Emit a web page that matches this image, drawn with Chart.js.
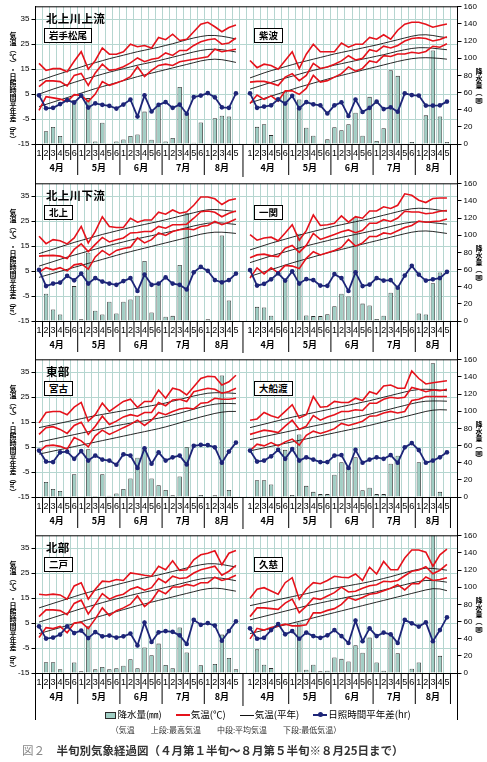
<!DOCTYPE html>
<html lang="ja">
<head>
<meta charset="utf-8">
<script src="https://cdn.jsdelivr.net/npm/chart.js@4.4.0/dist/chart.umd.min.js"></script>
<style>
  body { margin: 0; background: #fff; }
  #page { position: relative; width: 487px; height: 762px; overflow: hidden; font-family: "Noto Sans CJK JP", sans-serif; color: #000; }
  canvas { position: absolute; left: 0; }
  .region { position: absolute; left: 46px; font-size: 11.5px; font-weight: bold; letter-spacing: 0.3px; line-height: 14px; }
  .station { position: absolute; border: 1px solid #000; background: #fff; font-size: 9.5px; font-weight: bold; line-height: 13px; padding: 0 4px; }
  .vtitle { position: absolute; width: 10px; font-size: 7px; font-weight: bold; text-align: center; }
  .vtitle div { height: 6.9px; line-height: 6.9px; white-space: nowrap; }
  .vtitle .rot { transform: rotate(90deg); height: 8px; line-height: 8px; font-size: 6.5px; }
  #legend { position: absolute; top: 707px; left: 0; width: 516px; text-align: center; font-size: 9.5px; white-space: nowrap; line-height: 14px; }
  #legend .sw { display: inline-block; vertical-align: middle; margin-right: 1px; }
  #legend .item { margin: 0 7px; }
  #note { position: absolute; top: 724px; left: 0; width: 452px; text-align: center; font-size: 8px; color: #333; white-space: nowrap; }
  #caption { position: absolute; top: 742px; left: 22px; font-size: 11.5px; color: #333; white-space: nowrap; font-weight: bold; }
  #caption .fig { color: #888; font-weight: normal; }
</style>
</head>
<body>
<div id="page"></div>
<script>
// 横軸（半旬）
const months = ['4月', '5月', '6月', '7月', '8月'];
const halfCounts = [6, 6, 6, 6, 5];
const halfLabels = ['1','2','3','4','5','6','1','2','3','4','5','6','1','2','3','4','5','6','1','2','3','4','5','6','1','2','3','4','5'];

// 岩手松尾
const matsuoMax  = [17.3,14.5,15.2,15.2,14.0,18.2,22.0,15.0,18.5,23.5,21.0,21.0,22.0,25.0,24.0,24.5,23.5,27.7,26.8,29.0,26.5,27.0,30.0,33.0,33.8,32.0,30.0,31.7,32.7];
const matsuoMean = [8.0,10.3,10.3,10.0,8.3,12.5,13.3,8.5,13.5,17.0,14.5,15.0,16.0,17.5,19.5,18.0,19.0,19.5,21.5,20.5,22.5,22.5,24.5,26.0,26.8,27.2,25.0,25.5,27.5];
const matsuoMin  = [-1.5,4.0,3.5,3.0,2.0,4.8,4.5,2.0,5.0,10.0,8.5,9.5,10.5,12.0,16.0,12.0,14.5,16.5,17.0,16.5,18.0,18.5,19.0,19.5,20.0,23.0,22.0,22.5,23.0];
const matsuoMaxN  = [10.3,11.3,12.3,13.2,14.1,15.0,15.9,16.8,17.6,18.4,19.2,19.9,20.6,21.3,22.0,22.6,23.2,23.8,24.5,25.2,26.0,26.8,27.5,28.1,28.5,28.5,28.2,27.7,27.1];
const matsuoMeanN = [5.0,6.0,7.0,7.9,8.8,9.7,10.6,11.4,12.2,13.0,13.8,14.5,15.2,15.9,16.6,17.2,17.8,18.4,19.1,19.8,20.5,21.2,21.9,22.5,22.9,23.0,22.8,22.4,21.9];
const matsuoMinN  = [0.0,0.9,1.8,2.7,3.6,4.5,5.4,6.3,7.2,8.0,8.8,9.6,10.4,11.2,12.0,12.7,13.4,14.1,14.8,15.5,16.2,16.9,17.6,18.3,18.8,19.0,18.8,18.3,17.7];
const matsuoSun  = [4.5,-0.7,-0.5,1.0,2.6,1.6,4.4,-0.4,1.3,0.7,0.3,-0.8,0.8,2.8,-4.0,4.5,-2.0,0.7,1.8,-0.5,0.8,-2.9,3.8,4.4,5.4,3.7,-0.3,-0.5,5.3];
const matsuoRain = [0,14.8,19.8,9.3,1,51,0,53.5,3,24.7,1,3,5.2,9.3,11,37.8,5,45,3,7,66.6,36,1.5,25,0,30,33,32,0];

// 紫波
const shiwaMax  = [18.5,15.6,17.0,16.5,15.0,18.5,22.0,15.2,21.0,25.0,22.0,22.0,22.0,25.5,23.8,25.0,25.0,27.7,27.0,28.8,27.0,30.6,33.0,33.8,33.8,33.0,31.8,32.5,33.1];
const shiwaMean = [9.8,10.1,10.1,9.4,8.4,11.8,13.2,10.4,12.5,17.3,15.3,15.9,17.0,18.3,20.4,18.7,19.4,22.8,22.1,24.2,23.5,24.5,26.3,27.3,27.6,27.3,26.3,26.9,28.0];
const shiwaMin  = [1.2,4.6,2.9,4.3,2.2,6.3,6.3,4.9,7.3,12.5,9.8,10.4,11.8,13.2,15.9,14.2,15.3,18.3,17.7,20.4,20.1,21.1,21.1,21.8,21.4,22.1,24.2,23.8,25.2];
const shiwaMaxN  = [11.5,12.5,13.5,14.4,15.2,16.0,16.8,17.6,18.3,19.0,19.7,20.4,21.1,21.7,22.3,22.9,23.5,24.1,24.7,25.4,26.1,26.8,27.5,28.2,28.7,28.8,28.5,28.0,27.6];
const shiwaMeanN = [7.0,7.9,8.8,9.7,10.6,11.4,12.2,13.0,13.8,14.5,15.2,15.9,16.6,17.2,17.8,18.4,19.0,19.6,20.2,20.8,21.5,22.2,22.8,23.3,23.6,23.6,23.4,23.1,22.8];
const shiwaMinN  = [1.5,2.4,3.3,4.2,5.1,6.0,6.9,7.8,8.6,9.4,10.2,11.0,11.8,12.5,13.2,13.9,14.6,15.3,16.0,16.7,17.4,18.1,18.7,19.2,19.5,19.6,19.5,19.3,19.0];
const shiwaSun  = [5.3,-0.5,0.0,0.5,2.9,1.2,4.3,-0.7,1.8,0.9,0.5,-2.8,0.5,1.7,-3.8,2.8,-2.2,-0.5,2.0,-1.0,-0.3,-2.1,5.3,4.6,4.4,0.4,0.4,0.5,2.0];
const shiwaRain = [0,20,23,10.4,0,61,1,52,19,9.6,1,5.4,19.6,16,23,36.5,9.6,55,3.5,18.4,86,79.5,0,2.3,0,33.4,109,32,2.3];

// 北上
const kitakamiMax  = [19.0,16.0,17.6,17.2,15.9,18.3,22.9,16.3,20.9,26.8,22.9,22.5,22.5,26.2,24.6,25.5,25.5,28.6,27.8,29.5,28.2,28.8,31.4,34.7,34.7,34.0,31.7,33.4,34.0];
const kitakamiMean = [11.0,11.2,11.3,11.0,10.0,13.7,15.9,12.8,15.7,18.5,16.7,17.6,18.3,20.3,20.5,20.9,20.9,22.9,22.2,23.6,23.6,23.8,26.2,28.8,29.1,28.6,26.8,28.2,29.1];
const kitakamiMin  = [4.5,6.4,5.5,6.4,5.1,7.5,8.0,5.8,10.7,13.3,11.4,13.3,14.1,14.6,18.3,16.3,17.6,20.3,19.3,20.9,21.6,22.0,21.6,22.9,23.3,24.9,23.6,24.6,25.9];
const kitakamiMaxN  = [12.0,12.9,13.8,14.7,15.6,16.5,17.3,18.1,18.9,19.7,20.4,21.1,21.8,22.5,23.1,23.7,24.3,24.9,25.6,26.3,27.0,27.7,28.4,29.1,29.6,29.7,29.5,29.2,28.8];
const kitakamiMeanN = [7.0,7.9,8.8,9.7,10.6,11.4,12.2,13.0,13.8,14.6,15.3,16.0,16.7,17.4,18.0,18.6,19.2,19.8,20.4,21.0,21.7,22.4,23.1,23.7,24.2,24.4,24.3,24.0,23.7];
const kitakamiMinN  = [2.5,3.3,4.1,4.9,5.7,6.5,7.3,8.1,8.9,9.7,10.5,11.3,12.1,12.8,13.5,14.2,14.9,15.6,16.3,17.0,17.7,18.4,19.1,19.8,20.3,20.6,20.6,20.4,20.1];
const kitakamiSun  = [5.5,-1.0,0.0,0.4,3.1,1.3,4.0,0.0,2.2,0.8,0.0,-0.5,1.0,2.2,-3.0,3.6,-0.5,0.0,2.5,0.0,-0.5,-2.4,4.5,6.7,5.1,1.4,0.5,1.4,4.0];
const kitakamiRain = [0,31.7,13.4,7.6,0,40.7,2,79.7,12,7.6,22.5,8.7,22.5,25,29.4,70,10,43.9,5,6,65.4,125.7,0,0,2,0,99.8,24,0];

// 一関
const ichinosekiMax  = [19.6,17.4,18.3,18.6,17.2,20.3,23.6,17.4,21.2,27.5,23.3,23.6,24.2,27.1,24.6,26.8,26.2,29.1,29.1,30.8,30.1,31.4,36.0,35.4,33.4,32.5,34.1,34.3,34.3];
const ichinosekiMean = [10.4,11.5,11.8,11.1,10.8,14.2,15.3,12.5,15.3,20.1,17.7,18.7,19.7,20.8,21.5,20.4,21.4,24.2,24.2,25.6,24.9,26.3,29.0,28.7,28.7,28.0,28.3,29.0,29.3];
const ichinosekiMin  = [2.2,6.3,3.9,6.3,4.3,7.3,7.0,6.0,10.1,12.8,11.5,12.4,13.3,14.5,17.7,15.0,16.3,18.9,18.9,20.3,19.9,21.2,22.5,23.3,25.1,24.6,24.9,25.1,25.9];
const ichinosekiMaxN  = [13.5,14.4,15.3,16.2,17.0,17.8,18.6,19.4,20.2,20.9,21.6,22.3,23.0,23.6,24.2,24.8,25.4,26.0,26.7,27.4,28.1,28.8,29.5,30.0,30.2,30.1,29.8,29.4,29.0];
const ichinosekiMeanN = [8.4,9.3,10.2,11.1,11.9,12.7,13.5,14.3,15.1,15.8,16.5,17.2,17.9,18.5,19.1,19.7,20.3,20.9,21.5,22.2,22.9,23.6,24.2,24.6,24.8,24.7,24.4,24.1,23.8];
const ichinosekiMinN  = [2.9,3.8,4.7,5.6,6.5,7.4,8.3,9.1,9.9,10.7,11.5,12.3,13.0,13.7,14.4,15.1,15.8,16.5,17.2,17.9,18.6,19.3,20.0,20.6,21.0,21.1,20.9,20.5,20.1];
const ichinosekiSun  = [5.4,-0.8,-0.1,1.7,4.1,1.2,4.9,0.0,1.8,1.4,-0.8,-0.9,3.8,2.2,-3.0,4.5,-1.0,-0.4,2.2,1.2,1.4,-1.7,3.2,7.1,3.6,1.2,1.7,2.2,4.7];
const ichinosekiRain = [0,16.5,15.7,6.1,0,47,1,101.8,6.5,5.7,5.7,8,17.2,31.8,28.7,121,20.3,18,2.3,6.1,33,39.4,0.8,0,8.8,7.7,44,56.7,0];

// 宮古
const miyakoMax  = [14.7,18.9,19.3,19.3,18.0,21.0,22.9,15.4,18.0,22.6,19.3,21.3,23.3,24.2,20.9,23.3,23.3,27.9,24.6,28.6,27.9,25.9,29.2,32.5,33.4,33.2,29.9,31.2,33.8];
const miyakoMean = [10.1,12.8,13.2,12.1,10.5,13.7,15.0,10.1,13.4,17.4,14.1,15.4,17.1,18.0,17.4,18.9,18.9,22.9,21.6,23.9,24.2,23.3,27.2,27.9,28.6,28.2,26.6,27.3,28.6];
const miyakoMin  = [3.2,5.5,5.8,5.3,4.2,8.8,7.5,5.1,9.5,11.8,10.1,11.4,12.8,14.1,15.8,13.7,15.8,18.9,18.0,19.3,20.3,20.7,20.3,22.6,22.9,24.6,24.2,24.2,24.6];
const miyakoMaxN  = [12.8,13.4,14.0,14.6,15.2,15.8,16.4,17.0,17.6,18.1,18.6,19.1,19.6,20.1,20.6,21.1,21.6,22.1,22.7,23.4,24.1,24.8,25.5,26.1,26.6,26.8,26.8,26.7,26.5];
const miyakoMeanN = [7.0,7.6,8.2,8.8,9.4,10.0,10.6,11.2,11.8,12.4,13.0,13.6,14.1,14.6,15.1,15.6,16.1,16.6,17.2,17.9,18.6,19.4,20.2,21.0,21.7,22.2,22.5,22.5,22.4];
const miyakoMinN  = [2.2,2.8,3.4,4.0,4.6,5.2,5.8,6.4,7.0,7.6,8.2,8.8,9.4,10.0,10.6,11.2,11.8,12.4,13.1,13.9,14.7,15.5,16.3,17.1,17.8,18.5,19.0,19.3,19.3];
const miyakoSun  = [3.6,-0.8,-1.0,2.9,3.2,0.3,3.4,-0.4,1.6,0.0,-0.4,-2.1,2.1,1.6,-3.4,4.5,-1.7,2.9,-0.4,0.9,1.6,-2.0,5.5,5.9,5.8,4.9,-1.3,3.2,6.8];
const miyakoRain = [0,17.5,9.3,7,0,26.5,0,55.8,1.2,26.5,1.4,4,9.3,21.5,45.7,55.8,21.5,13.7,8.1,2,24,58,0,2.3,0,2,141.7,8.1,0];

// 大船渡
const ofunatoMax  = [15.8,16.3,18.9,17.6,16.7,19.3,22.0,16.7,18.0,25.3,21.0,21.3,23.3,22.9,22.9,24.6,23.7,27.2,26.3,29.5,29.9,28.6,28.6,35.5,32.5,30.3,30.8,31.2,31.6];
const ofunatoMean = [10.1,11.0,11.8,11.4,10.8,13.4,15.8,12.1,13.4,17.6,15.8,17.1,18.0,19.3,19.3,20.0,19.7,22.6,22.6,24.2,25.0,24.6,25.0,28.9,28.2,27.2,27.9,27.6,28.2];
const ofunatoMin  = [3.6,6.2,5.5,6.8,5.5,7.1,8.2,5.8,9.7,11.4,10.5,11.4,12.4,14.5,13.7,14.5,15.4,17.4,17.6,18.7,19.3,18.7,19.3,23.7,24.2,25.3,25.3,25.3,25.3];
const ofunatoMaxN  = [12.8,13.5,14.2,14.9,15.6,16.3,17.0,17.6,18.2,18.8,19.4,20.0,20.6,21.2,21.8,22.4,23.0,23.6,24.3,25.0,25.7,26.4,27.1,27.7,28.1,28.2,28.1,27.9,27.6];
const ofunatoMeanN = [8.0,8.6,9.2,9.8,10.4,11.0,11.6,12.2,12.8,13.4,14.0,14.6,15.2,15.8,16.4,17.0,17.6,18.2,18.9,19.6,20.3,21.0,21.7,22.4,23.0,23.4,23.5,23.5,23.4];
const ofunatoMinN  = [3.5,4.1,4.7,5.3,5.9,6.5,7.1,7.7,8.3,8.9,9.5,10.1,10.7,11.3,11.9,12.5,13.1,13.7,14.4,15.1,15.8,16.5,17.2,17.9,18.6,19.3,19.8,20.0,19.9];
const ofunatoSun  = [3.6,-0.8,-0.4,1.3,3.9,0.3,4.2,-0.4,0.9,0.0,-1.0,-1.0,1.6,1.8,-3.4,3.9,-1.3,0.0,0.9,0.3,1.8,-1.3,4.9,6.6,3.8,-1.3,-0.4,0.9,2.9];
const ofunatoRain = [0,19.5,19.5,14.5,0,55,2.3,73,13,6,3.4,3.4,26,40.6,36,46.3,8,10.7,3.4,3.4,38.7,48.2,0,0,40.6,0,156,6,1];

// 二戸
const ninoheMax  = [16.6,16.3,16.6,16.3,14.6,19.9,21.2,14.6,18.6,21.8,21.6,22.5,22.1,25.1,24.7,24.2,23.8,27.8,26.4,30.0,26.1,26.4,30.4,32.4,33.0,34.0,28.4,33.0,34.1];
const ninoheMean = [7.6,10.3,10.3,10.0,8.4,12.9,14.2,8.7,12.6,16.8,14.6,15.9,16.6,18.6,19.5,18.2,19.2,22.9,21.2,23.8,22.9,23.2,25.1,26.4,27.1,27.8,24.2,25.8,28.2];
const ninoheMin  = [-0.8,3.2,2.8,3.7,1.1,5.0,5.4,2.8,6.7,11.1,8.0,10.0,11.1,12.6,15.9,11.6,14.0,18.2,16.8,19.5,19.5,20.5,19.9,21.2,21.2,23.4,22.1,22.9,24.2];
const ninoheMaxN  = [11.1,12.0,12.9,13.8,14.7,15.6,16.5,17.3,18.1,18.9,19.7,20.4,21.1,21.8,22.5,23.1,23.7,24.3,25.0,25.7,26.4,27.1,27.8,28.4,28.8,28.8,28.5,28.0,27.5];
const ninoheMeanN = [5.4,6.3,7.2,8.1,9.0,9.9,10.8,11.6,12.4,13.2,14.0,14.7,15.4,16.1,16.8,17.4,18.0,18.6,19.3,20.0,20.7,21.4,22.1,22.7,23.1,23.2,23.0,22.5,22.0];
const ninoheMinN  = [0.8,1.6,2.4,3.2,4.0,4.8,5.6,6.4,7.2,8.0,8.8,9.6,10.4,11.2,12.0,12.7,13.4,14.1,14.8,15.5,16.2,16.9,17.6,18.3,18.8,19.0,18.8,18.3,17.8];
const ninoheSun  = [3.7,-1.2,-0.8,0.4,3.7,1.0,2.0,-1.0,1.4,-0.3,0.0,-0.8,-0.3,0.8,-4.0,5.2,-2.6,1.3,1.8,1.5,0.1,-3.4,6.3,4.3,5.0,4.0,-2.1,1.8,5.7];
const ninoheRain = [0,12.5,12.5,4.4,0,12.2,2,54.4,4.4,7,4.4,5.5,8.4,16,5.5,29.7,20.7,34.3,9.3,5.5,53,24,0,9,0,10.5,44.8,17.5,4.4];

// 久慈
const kujiMax  = [15.0,18.6,19.2,17.9,16.6,21.2,23.2,14.6,18.6,21.2,20.8,22.1,23.8,23.4,23.2,24.7,22.1,27.4,24.7,29.7,26.4,26.4,31.1,34.3,34.3,33.4,27.8,32.4,34.7];
const kujiMean = [7.6,11.1,11.1,10.8,10.5,13.0,14.6,9.2,11.8,15.0,14.5,15.9,17.2,19.4,17.5,17.8,19.0,20.0,20.4,21.8,21.6,22.1,24.0,25.8,26.3,27.6,24.8,26.2,28.5];
const kujiMin  = [-1.3,2.9,2.2,3.2,3.9,4.6,3.9,3.9,4.3,9.1,9.1,10.1,10.8,12.5,15.3,14.2,15.3,16.6,17.0,18.0,19.0,20.4,18.3,20.8,20.8,23.5,22.1,22.5,23.2];
const kujiMaxN  = [12.0,12.6,13.2,13.8,14.4,15.0,15.6,16.2,16.8,17.4,18.0,18.5,19.0,19.5,20.0,20.5,21.0,21.6,22.2,22.9,23.6,24.4,25.2,26.0,26.6,27.0,26.9,26.6,26.2];
const kujiMeanN = [6.3,7.0,7.7,8.4,9.1,9.8,10.5,11.2,11.9,12.5,13.1,13.7,14.3,14.9,15.5,16.0,16.5,17.0,17.6,18.3,19.0,19.7,20.4,21.1,21.7,22.1,22.1,21.8,21.4];
const kujiMinN  = [0.8,1.5,2.2,2.9,3.6,4.3,5.0,5.7,6.4,7.1,7.8,8.5,9.2,9.9,10.6,11.3,12.0,12.7,13.4,14.1,14.8,15.5,16.2,16.9,17.6,18.3,18.8,18.7,18.0];
const kujiSun  = [2.9,-1.3,-0.9,2.2,4.6,0.5,1.8,-1.3,1.2,-0.2,-0.9,0.1,2.2,-0.2,-3.0,6.0,-2.3,2.9,-0.2,1.2,0.5,-3.0,6.3,4.9,3.6,5.3,-2.3,2.2,7.3];
const kujiRain = [0,27.6,9.6,5.7,0,0,0,59,3.8,9.6,1.9,2.7,18,16.5,13.4,32.5,23.7,41.3,12.2,2.7,44,23,0,5,12.2,0,175,20,0];

// 段ごとの構成
const rowDefs = [
    { region: '北上川上流', names: ['岩手松尾', '紫波'],
      left:  { max: matsuoMax, mean: matsuoMean, min: matsuoMin, maxN: matsuoMaxN, meanN: matsuoMeanN, minN: matsuoMinN, sun: matsuoSun, rain: matsuoRain },
      right: { max: shiwaMax, mean: shiwaMean, min: shiwaMin, maxN: shiwaMaxN, meanN: shiwaMeanN, minN: shiwaMinN, sun: shiwaSun, rain: shiwaRain } },
    { region: '北上川下流', names: ['北上', '一関'],
      left:  { max: kitakamiMax, mean: kitakamiMean, min: kitakamiMin, maxN: kitakamiMaxN, meanN: kitakamiMeanN, minN: kitakamiMinN, sun: kitakamiSun, rain: kitakamiRain },
      right: { max: ichinosekiMax, mean: ichinosekiMean, min: ichinosekiMin, maxN: ichinosekiMaxN, meanN: ichinosekiMeanN, minN: ichinosekiMinN, sun: ichinosekiSun, rain: ichinosekiRain } },
    { region: '東部', names: ['宮古', '大船渡'],
      left:  { max: miyakoMax, mean: miyakoMean, min: miyakoMin, maxN: miyakoMaxN, meanN: miyakoMeanN, minN: miyakoMinN, sun: miyakoSun, rain: miyakoRain },
      right: { max: ofunatoMax, mean: ofunatoMean, min: ofunatoMin, maxN: ofunatoMaxN, meanN: ofunatoMeanN, minN: ofunatoMinN, sun: ofunatoSun, rain: ofunatoRain } },
    { region: '北部', names: ['二戸', '久慈'],
      left:  { max: ninoheMax, mean: ninoheMean, min: ninoheMin, maxN: ninoheMaxN, meanN: ninoheMeanN, minN: ninoheMinN, sun: ninoheSun, rain: ninoheRain },
      right: { max: kujiMax, mean: kujiMean, min: kujiMin, maxN: kujiMaxN, meanN: kujiMeanN, minN: kujiMinN, sun: kujiSun, rain: kujiRain } }
];

// 軸題（縦書き）
const leftTitle = ['気','温','︵','℃','︶','・','日','照','時','間','平','年','差','︵','hr','︶'];
const rightTitle = ['降','水','量','︵','㎜','︶'];

// レイアウト
const W = 487;
const canvasTops = [0, 177, 353, 529];
const canvasHeights = [177, 176, 176, 233];
const AREA_TOP = 5, AREA_BOTTOM = 144;
const AREA_LEFT = 35.5, AREA_RIGHT = 457.5;
const GRID = '#b5d6d0';
const RED = '#e5121b';
const NAVY = '#1d2578';

Chart.defaults.font.family = '"Liberation Sans", Arial, sans-serif';
Chart.defaults.color = '#000';

// 2地点を1本の軸に並べる（間に空き1半旬）
function joinPanels(a, b) {
    return a.concat([null], b, [null]);
}

const catLabels = halfLabels.concat([''], halfLabels, ['']);

// 下の表（半旬・月）と枠線
const tablePlugin = {
    id: 'table',
    afterDraw(chart, args, opts) {
        const { ctx, chartArea: a, scales: { x } } = chart;
        const step = x.getPixelForValue(1) - x.getPixelForValue(0);
        const line = (x1, y1, x2, y2) => {
            ctx.beginPath(); ctx.moveTo(x1, y1); ctx.lineTo(x2, y2); ctx.stroke();
        };
        ctx.save();
        ctx.strokeStyle = '#000';
        ctx.lineWidth = 1;
        line(a.left, a.top, a.right, a.top);
        const top0 = opts.first ? a.top : 0;
        line(a.left, top0, a.left, opts.frameBottom);
        line(a.right, top0, a.right, opts.frameBottom);

        ctx.fillStyle = '#000';
        ctx.textAlign = 'center';
        ctx.textBaseline = 'middle';
        [0, 30].forEach(start => {
            let idx = start;
            months.forEach((m, mi) => {
                const n = halfCounts[mi];
                const x0 = x.getPixelForValue(idx) - step / 2;
                const x1 = x.getPixelForValue(idx + n - 1) + step / 2;
                if (mi > 0) line(x0, a.bottom, x0, a.bottom + 31);
                ctx.font = '9px "Liberation Sans", Arial, sans-serif';
                for (let k = 0; k < n; k++) {
                    const cx = x.getPixelForValue(idx + k);
                    ctx.fillText(halfLabels[idx - start + k], cx, a.bottom + 10);
                    if (k > 0) line(cx - step / 2, a.bottom, cx - step / 2, a.bottom + 16);
                }
                ctx.font = 'bold 9px "Noto Sans CJK JP", sans-serif';
                ctx.fillText(m, (x0 + x1) / 2, a.bottom + 24);
                idx += n;
            });
        });
        // 右地点の表の右端と、左右の仕切り
        const xr = x.getPixelForValue(58) + step / 2;
        line(xr, a.bottom, xr, a.bottom + 31);
        const xm = x.getPixelForValue(29);
        line(xm, a.bottom, xm, opts.midBottom);
        ctx.restore();
    }
};

const page = document.getElementById('page');

function addVertical(parts, left, top) {
    const el = document.createElement('div');
    el.className = 'vtitle';
    el.style.left = left + 'px';
    el.style.top = top + 'px';
    parts.forEach(p => {
        const c = document.createElement('div');
        if (/^[a-z]+$/.test(p)) c.className = 'rot';
        c.textContent = p;
        el.appendChild(c);
    });
    page.appendChild(el);
}

rowDefs.forEach((row, r) => {
    const top = canvasTops[r];
    const H = canvasHeights[r];
    const canvas = document.createElement('canvas');
    canvas.width = W;
    canvas.height = H;
    canvas.style.top = top + 'px';
    page.appendChild(canvas);

    const L = row.left, R = row.right;
    const lineDs = (data, color, width, order) => ({
        type: 'line', data, yAxisID: 'y', borderColor: color, borderWidth: width,
        pointRadius: 0, tension: 0, fill: false, order
    });

    new Chart(canvas.getContext('2d'), {
        type: 'bar',
        data: {
            labels: catLabels,
            datasets: [
                {
                    type: 'bar', label: '降水量(㎜)', data: joinPanels(L.rain, R.rain), yAxisID: 'y2',
                    backgroundColor: '#a0cec4', borderColor: '#2b2b2b', borderWidth: 0.8,
                    barPercentage: 0.62, categoryPercentage: 1, order: 9
                },
                lineDs(joinPanels(L.maxN, R.maxN), '#111', 0.9, 3),
                lineDs(joinPanels(L.meanN, R.meanN), '#111', 0.9, 3),
                lineDs(joinPanels(L.minN, R.minN), '#111', 0.9, 3),
                lineDs(joinPanels(L.max, R.max), RED, 1.6, 2),
                lineDs(joinPanels(L.mean, R.mean), RED, 1.6, 2),
                lineDs(joinPanels(L.min, R.min), RED, 1.6, 2),
                {
                    type: 'line', label: '日照時間平年差(hr)', data: joinPanels(L.sun, R.sun), yAxisID: 'y',
                    borderColor: NAVY, borderWidth: 1.8, backgroundColor: NAVY,
                    pointRadius: 2.3, pointBorderWidth: 0, pointBackgroundColor: NAVY,
                    tension: 0, fill: false, order: 1
                }
            ]
        },
        options: {
            responsive: false,
            animation: false,
            events: [],
            layout: { padding: { top: AREA_TOP, left: 0, right: 0, bottom: 0 } },
            plugins: {
                legend: { display: false },
                tooltip: { enabled: false },
                table: { first: r === 0, frameBottom: r === 3 ? 191 : H, midBottom: AREA_BOTTOM + 33 }
            },
            scales: {
                x: {
                    type: 'category', offset: true,
                    grid: { offset: true, color: GRID, drawTicks: false, lineWidth: 1 },
                    border: { display: true, color: '#000' },
                    ticks: { display: false },
                    afterFit: s => { s.height = H - AREA_BOTTOM; }
                },
                y: {
                    position: 'left', min: -15, max: 40,
                    ticks: { stepSize: 5, font: { size: 8 }, padding: 2 },
                    grid: {
                        color: c => (c.tick && c.tick.value === 0) ? '#000' : GRID,
                        lineWidth: c => (c.tick && c.tick.value === 0) ? 1.5 : 1,
                        tickLength: 4, tickColor: '#000'
                    },
                    border: { color: '#000' },
                    afterFit: s => { s.width = AREA_LEFT; }
                },
                y2: {
                    position: 'right', min: 0, max: 160,
                    ticks: { stepSize: 10, font: { size: 8 }, padding: 2, callback: v => (v % 20 === 0 ? v : '') },
                    grid: { drawOnChartArea: false, tickLength: 4, tickColor: '#000' },
                    border: { color: '#000' },
                    afterFit: s => { s.width = W - AREA_RIGHT; }
                }
            }
        },
        plugins: [tablePlugin]
    });

    // 文字（地域名・地点名・軸題）
    const areaTop = top + AREA_TOP;
    const region = document.createElement('div');
    region.className = 'region';
    region.style.top = (areaTop + 6) + 'px';
    region.textContent = row.region;
    page.appendChild(region);

    row.names.forEach((name, i) => {
        const box = document.createElement('div');
        box.className = 'station';
        box.style.left = (i === 0 ? 44 : 254) + 'px';
        box.style.top = (areaTop + 23) + 'px';
        box.textContent = name;
        page.appendChild(box);
    });

    addVertical(leftTitle, 8, areaTop + 27);
    addVertical(rightTitle, 474, areaTop + 63);
});

// 凡例・注記・図題
const legend = document.createElement('div');
legend.id = 'legend';
legend.innerHTML =
    '<span class="item"><span class="sw" style="width:9px;height:5px;background:#a0cec4;border:1px solid #2b2b2b"></span>降水量(㎜)</span>' +
    '<span class="item"><span class="sw" style="width:14px;height:2px;background:' + RED + '"></span>気温(℃)</span>' +
    '<span class="item"><span class="sw" style="width:14px;height:1px;background:#111"></span>気温(平年)</span>' +
    '<span class="item"><span class="sw" style="position:relative;width:14px;height:2px;background:' + NAVY + '">' +
    '<span style="position:absolute;left:5px;top:-2px;width:5px;height:5px;border-radius:50%;background:' + NAVY + '"></span></span>日照時間平年差(hr)</span>';
page.appendChild(legend);

const note = document.createElement('div');
note.id = 'note';
note.textContent = '（気温　　上段:最高気温　　中段:平均気温　　下段:最低気温）';
page.appendChild(note);

const caption = document.createElement('div');
caption.id = 'caption';
caption.innerHTML = '<span class="fig">図２</span>　半旬別気象経過図（４月第１半旬～８月第５半旬※８月25日まで）';
page.appendChild(caption);
</script>
</body>
</html>
